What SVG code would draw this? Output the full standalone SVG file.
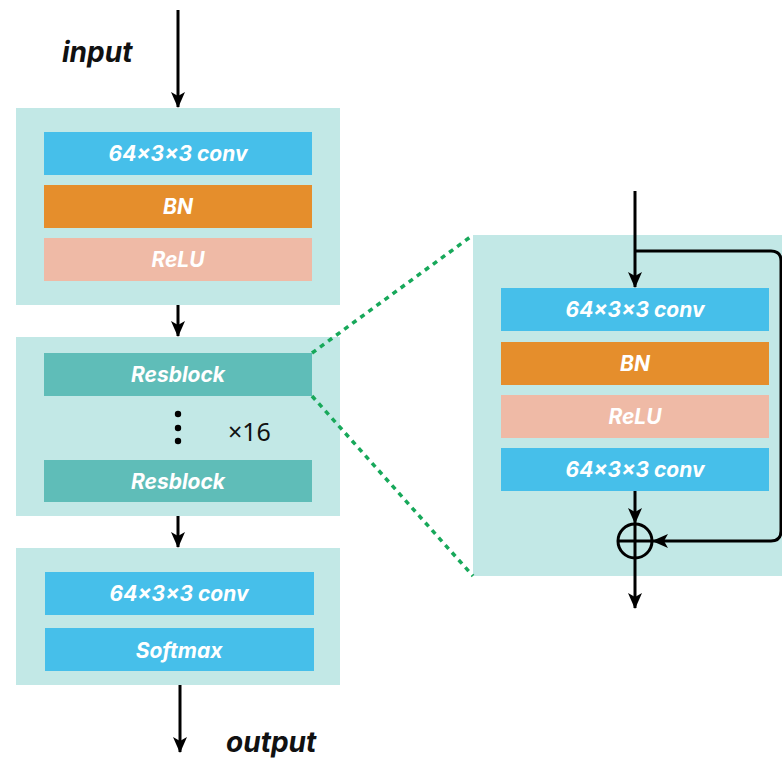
<svg xmlns="http://www.w3.org/2000/svg" width="782" height="760" viewBox="0 0 782 760">
  <style>
    .panel { fill: #c2e8e6; }
    .conv { fill: #46bfea; }
    .bn { fill: #e58e2c; }
    .relu { fill: #efbaa6; }
    .res { fill: #5fbdb8; }
    .lbl { font-family: Inter, "Open Sans", "Liberation Sans", sans-serif; font-weight: 700; font-style: italic; font-size: 21px; fill: #ffffff; text-anchor: middle; }
    .io { font-family: Inter, "Open Sans", "Liberation Sans", sans-serif; font-weight: 700; font-style: italic; font-size: 28px; fill: #111111; }
    .wire { stroke: #000000; stroke-width: 3; fill: none; }
    .zoom { stroke: #17a85a; stroke-width: 3.5; stroke-dasharray: 5 5; fill: none; }
  </style>
  <defs>
    <marker id="arrow" markerWidth="16" markerHeight="16" refX="15" refY="8" orient="auto" markerUnits="userSpaceOnUse">
      <path d="M0,1 L16,8 L0,15 L4,8 Z" fill="#000000"/>
    </marker>
  </defs>
  <rect width="782" height="760" fill="#ffffff"/>

  <!-- input / output labels -->
  <text class="io" x="62" y="62">input</text>
  <text class="io" x="226" y="752" font-size="29">output</text>

  <!-- stem block -->
  <g id="stem">
    <rect class="panel" x="16" y="108" width="324" height="197"/>
    <rect class="conv" x="44" y="132" width="268" height="43"/>
    <text class="lbl" x="178" y="161">64×3×3 conv</text>
    <rect class="bn" x="44" y="185" width="268" height="43"/>
    <text class="lbl" x="178" y="214">BN</text>
    <rect class="relu" x="44" y="238" width="268" height="43"/>
    <text class="lbl" x="178" y="267">ReLU</text>
  </g>

  <!-- residual stack -->
  <g id="resstack">
    <rect class="panel" x="16" y="337" width="324" height="179"/>
    <rect class="res" x="44" y="353" width="268" height="43"/>
    <text class="lbl" x="178" y="382">Resblock</text>
    <circle cx="178" cy="414" r="3.2" fill="#000"/>
    <circle cx="178" cy="428" r="3.2" fill="#000"/>
    <circle cx="178" cy="441" r="3.2" fill="#000"/>
    <text x="228" y="441" font-family="'Noto Sans', 'DejaVu Sans', sans-serif" font-size="25" fill="#111">×16</text>
    <rect class="res" x="44" y="460" width="268" height="42"/>
    <text class="lbl" x="178" y="489">Resblock</text>
  </g>

  <!-- head block -->
  <g id="head">
    <rect class="panel" x="16" y="548" width="324" height="137"/>
    <rect class="conv" x="45" y="572" width="269" height="43"/>
    <text class="lbl" x="179" y="601">64×3×3 conv</text>
    <rect class="conv" x="45" y="628" width="269" height="43"/>
    <text class="lbl" x="179" y="658">Softmax</text>
  </g>

  <!-- expanded residual block -->
  <g id="resblock-detail">
    <rect class="panel" x="473" y="235" width="309" height="341"/>
    <rect class="conv" x="501" y="288" width="268" height="43"/>
    <text class="lbl" x="635" y="317">64×3×3 conv</text>
    <rect class="bn" x="501" y="342" width="268" height="43"/>
    <text class="lbl" x="635" y="371">BN</text>
    <rect class="relu" x="501" y="395" width="268" height="43"/>
    <text class="lbl" x="635" y="424">ReLU</text>
    <rect class="conv" x="501" y="448" width="268" height="43"/>
    <text class="lbl" x="635" y="477">64×3×3 conv</text>
    <g id="sum">
      <circle cx="635" cy="541" r="17" fill="none" stroke="#000" stroke-width="3"/>
      <line x1="618" y1="541" x2="652" y2="541" stroke="#000" stroke-width="3"/>
      <line x1="635" y1="524" x2="635" y2="558" stroke="#000" stroke-width="3"/>
    </g>
  </g>

  <!-- connectors -->
  <g id="connectors">
    <line class="wire" x1="178" y1="10" x2="178" y2="107" marker-end="url(#arrow)"/>
    <line class="wire" x1="178" y1="305" x2="178" y2="336" marker-end="url(#arrow)"/>
    <line class="wire" x1="178" y1="516" x2="178" y2="547" marker-end="url(#arrow)"/>
    <line class="wire" x1="180" y1="685" x2="180" y2="752" marker-end="url(#arrow)"/>

    <line class="wire" x1="635" y1="191" x2="635" y2="287" marker-end="url(#arrow)"/>
    <path class="wire" d="M635,251 H771 Q781,251 781,261 V531 Q781,541 771,541 H653" marker-end="url(#arrow)"/>
    <line class="wire" x1="635" y1="491" x2="635" y2="523" marker-end="url(#arrow)"/>
    <line class="wire" x1="635" y1="558" x2="635" y2="608" marker-end="url(#arrow)"/>

    <line class="zoom" x1="312" y1="353" x2="473" y2="235"/>
    <line class="zoom" x1="312" y1="396" x2="473" y2="576"/>
  </g>
</svg>
